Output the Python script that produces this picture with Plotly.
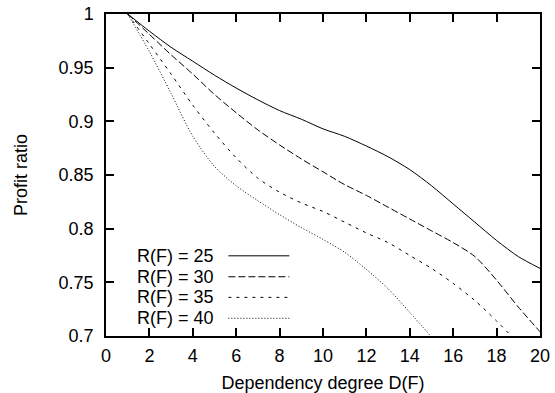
import plotly.graph_objects as go

# Dependency degree D(F)
x_vals = [1, 2, 3, 4, 5, 6, 7, 8, 9, 10, 11, 12, 13, 14, 15, 16, 17, 18, 19, 20]

# Profit ratio for each R(F)
r25 = [1.0, 0.984, 0.969, 0.956, 0.943, 0.931, 0.920, 0.910, 0.902, 0.893,
       0.886, 0.877, 0.867, 0.855, 0.840, 0.823, 0.806, 0.789, 0.774, 0.763]
r30 = [1.0, 0.981, 0.962, 0.944, 0.925, 0.908, 0.892, 0.878, 0.865, 0.853,
       0.841, 0.831, 0.820, 0.809, 0.798, 0.787, 0.774, 0.752, 0.727, 0.704]
r35 = [1.0, 0.972, 0.944, 0.915, 0.889, 0.866, 0.847, 0.834, 0.824, 0.816,
       0.806, 0.796, 0.787, 0.775, 0.763, 0.749, 0.733, 0.714, 0.693]
r40 = [1.0, 0.965, 0.926, 0.886, 0.858, 0.840, 0.826, 0.813, 0.801, 0.790,
       0.778, 0.762, 0.744, 0.722, 0.699]

series_names = ["R(F) = 25", "R(F) = 30", "R(F) = 35", "R(F) = 40"]
series_vals = [r25, r30, r35, r40]
dashes = ["solid", "7px,3px", "3px,5px", "1px,2px"]

x_ticks = list(range(0, 21, 2))
y_ticks = [0.7, 0.75, 0.8, 0.85, 0.9, 0.95, 1.0]
y_tick_text = ["0.7", "0.75", "0.8", "0.85", "0.9", "0.95", "1"]

FONT = "Liberation Sans, Arial, sans-serif"
FS = 18

fig = go.Figure()
for name, vals, dash in zip(series_names, series_vals, dashes):
    fig.add_trace(go.Scatter(
        x=x_vals[:len(vals)], y=vals, mode="lines", name=name,
        line=dict(color="black", width=1, dash=dash, shape="spline", smoothing=0.8),
        showlegend=False,
    ))

# Custom gnuplot-style key: text, then line sample
row_y = [0.249, 0.184, 0.120, 0.055]
for name, dash, yy in zip(series_names, dashes, row_y):
    fig.add_annotation(xref="paper", yref="paper", x=0.254, y=yy, text=name,
                       showarrow=False, xanchor="right", yanchor="middle",
                       font=dict(family=FONT, size=FS, color="black"))
    fig.add_shape(type="line", xref="paper", yref="paper", x0=0.282, x1=0.4224,
                  y0=yy, y1=yy, line=dict(color="black", width=1, dash=dash))

axis_common = dict(
    showgrid=False, zeroline=False, showline=True, linecolor="black", linewidth=1.5,
    mirror="allticks", ticks="inside", ticklen=8, tickwidth=1.5, tickcolor="black",
    tickfont=dict(family=FONT, size=FS, color="black"), automargin=False,
)

fig.update_xaxes(range=[0, 20], tickvals=x_ticks, ticklabelstandoff=3,
                 title=dict(text="Dependency degree D(F)", standoff=14,
                            font=dict(family=FONT, size=FS, color="black")),
                 **axis_common)
fig.update_yaxes(range=[0.7, 1.0], tickvals=y_ticks, ticktext=y_tick_text,
                 ticklabelstandoff=7,
                 title=dict(text="Profit ratio", standoff=26,
                            font=dict(family=FONT, size=FS, color="black")),
                 **axis_common)

fig.update_layout(
    width=555, height=393,
    margin=dict(l=106, r=15, t=14, b=57),
    paper_bgcolor="white", plot_bgcolor="white",
    font=dict(family=FONT, color="black"),
)

fig.write_html("out.html")
